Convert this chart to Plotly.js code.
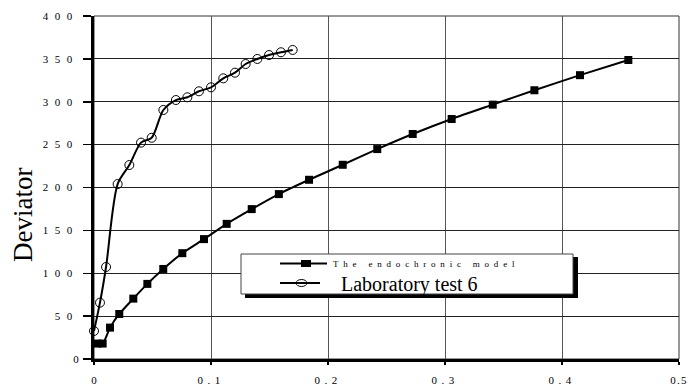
<!DOCTYPE html>
<html>
<head>
<meta charset="utf-8">
<script src="https://cdn.plot.ly/plotly-3.0.1.min.js"></script>
<style>html,body{margin:0;padding:0;background:#fff;}</style>
</head>
<body>
<div id="chart" style="width:688px;height:386px;"></div>
<script>
// ---- data ----
const modelName = "The endochronic model";
const modelX = [0.0028, 0.0074, 0.0137, 0.0216, 0.0336, 0.0456, 0.0592, 0.0755, 0.094, 0.1134, 0.1348, 0.158, 0.1838, 0.2126, 0.2421, 0.2724, 0.3057, 0.3408, 0.3764, 0.4154, 0.4567];
const modelY = [18, 18, 36.6, 52.5, 70.4, 87.6, 105, 123.4, 139.8, 157.6, 174.8, 192.3, 209, 226.5, 244.8, 262.4, 279.9, 296.6, 313.4, 331, 348.7];

const labName = "Laboratory test 6";
const labX = [0, 0.0051, 0.0103, 0.0202, 0.0302, 0.0402, 0.0493, 0.0593, 0.07, 0.0798, 0.0897, 0.1, 0.1105, 0.1205, 0.1296, 0.1396, 0.1496, 0.1598, 0.1698];
const labY = [32.7, 65.7, 107.3, 204, 226.2, 252.3, 258, 290.4, 302, 305.2, 312.2, 316.8, 327.3, 333.9, 344, 349.9, 354.5, 357.7, 360.4];

const xTickVals = [0, 0.1, 0.2, 0.3, 0.4, 0.5];
const xTickLabels = ["0", "0.1", "0.2", "0.3", "0.4", "0.5"];
const yTickVals = [0, 50, 100, 150, 200, 250, 300, 350, 400];
const yTickLabels = ["0", "50", "100", "150", "200", "250", "300", "350", "400"];
const yTitle = "Deviator";

// ---- layout helpers ----
const W = 688, H = 386;
const M = {l: 94, r: 9, t: 16, b: 27};
const PW = W - M.l - M.r, PH = H - M.t - M.b;
const px = p => (p - M.l) / PW;
const py = p => (H - M.b - p) / PH;
const SERIF = "Liberation Serif, Times New Roman, serif";
const spaced = (t, s) => '<span style="letter-spacing:' + s + 'px">' + t + '</span>';

const traces = [
  {
    x: modelX, y: modelY, name: modelName, type: 'scatter', mode: 'lines+markers',
    line: {color: '#000', width: 2, shape: 'spline', smoothing: 0.6},
    marker: {symbol: 'square', size: 8, color: '#000'},
    cliponaxis: false, showlegend: false
  },
  {
    x: labX, y: labY, name: labName, type: 'scatter', mode: 'lines+markers',
    line: {color: '#000', width: 2, shape: 'spline', smoothing: 0.8},
    marker: {symbol: 'circle-open', size: 9, color: '#000', line: {width: 1, color: '#000'}},
    cliponaxis: false, showlegend: false
  }
];

// legend drawn manually
const lg = {l: 241, r: 573, t: 254, b: 294};
const shapes = [
  {type: 'rect', xref: 'paper', yref: 'paper', x0: 0, x1: 1, y0: 0, y1: 1,
   fillcolor: 'rgba(0,0,0,0)', line: {color: '#333', width: 1}, layer: 'below'},
  {type: 'rect', xref: 'paper', yref: 'paper', x0: px(lg.l + 4), x1: px(lg.r + 5), y0: py(lg.b + 4), y1: py(lg.t + 3),
   fillcolor: '#000', line: {width: 0}, layer: 'above'},
  {type: 'rect', xref: 'paper', yref: 'paper', x0: px(lg.l), x1: px(lg.r), y0: py(lg.b), y1: py(lg.t),
   fillcolor: '#fff', line: {color: '#444', width: 1}, layer: 'above'},
  {type: 'line', xref: 'paper', yref: 'paper', x0: px(280), x1: px(327), y0: py(263.5), y1: py(263.5),
   line: {color: '#000', width: 2}, layer: 'above'},
  {type: 'rect', xref: 'paper', yref: 'paper', x0: px(301), x1: px(311), y0: py(267), y1: py(260),
   fillcolor: '#000', line: {width: 0}, layer: 'above'},
  {type: 'line', xref: 'paper', yref: 'paper', x0: px(280), x1: px(320), y0: py(283), y1: py(283),
   line: {color: '#000', width: 2}, layer: 'above'},
  {type: 'circle', xref: 'paper', yref: 'paper', x0: px(296), x1: px(307), y0: py(286.5), y1: py(279.5),
   fillcolor: 'rgba(0,0,0,0)', line: {color: '#000', width: 1}, layer: 'above'}
];

const annotations = [
  {xref: 'paper', yref: 'paper', x: px(23), y: py(215), text: yTitle, textangle: -90, showarrow: false,
   xanchor: 'center', yanchor: 'middle', font: {family: SERIF, size: 27, color: '#000'}},
  {xref: 'paper', yref: 'paper', x: px(331), y: py(263.5), text: spaced(modelName, 4.8), showarrow: false,
   xanchor: 'left', yanchor: 'middle', font: {family: SERIF, size: 9, color: '#000'}},
  {xref: 'paper', yref: 'paper', x: px(339), y: py(284), text: labName, showarrow: false,
   xanchor: 'left', yanchor: 'middle', font: {family: SERIF, size: 20, color: '#000'}}
];

const xText = xTickLabels.map((t, i) => {
  if (t === "0") return t;
  if (i === xTickLabels.length - 1) return spaced(t, 1.2);
  return spaced(t, 4.5);
});

const layout = {
  width: W, height: H,
  margin: M,
  paper_bgcolor: '#fff', plot_bgcolor: '#fff',
  showlegend: false,
  xaxis: {
    range: [0, 0.5], tickmode: 'array', tickvals: xTickVals,
    ticktext: xText,
    tickfont: {family: SERIF, size: 11, color: '#000'},
    ticklabeloverflow: 'allow',
    showgrid: true, gridcolor: '#555', gridwidth: 1,
    showline: true, linecolor: '#000', linewidth: 3,
    ticks: 'outside', ticklen: 3, tickwidth: 2, tickcolor: '#000',
    ticklabelstandoff: 6,
    zeroline: false, fixedrange: true
  },
  yaxis: {
    range: [0, 400], tickmode: 'array', tickvals: yTickVals,
    ticktext: yTickLabels.map(t => t === "0" ? t : spaced(t, 6.5)),
    tickfont: {family: SERIF, size: 11, color: '#000'},
    ticklabeloverflow: 'allow',
    showgrid: true, gridcolor: '#222', gridwidth: 1,
    showline: true, linecolor: '#000', linewidth: 3,
    ticks: 'outside', ticklen: 8, tickwidth: 1.5, tickcolor: '#000',
    ticklabelstandoff: 2,
    zeroline: false, fixedrange: true
  },
  shapes: shapes,
  annotations: annotations
};

Plotly.newPlot('chart', traces, layout, {displayModeBar: false, staticPlot: true});
</script>
</body>
</html>
